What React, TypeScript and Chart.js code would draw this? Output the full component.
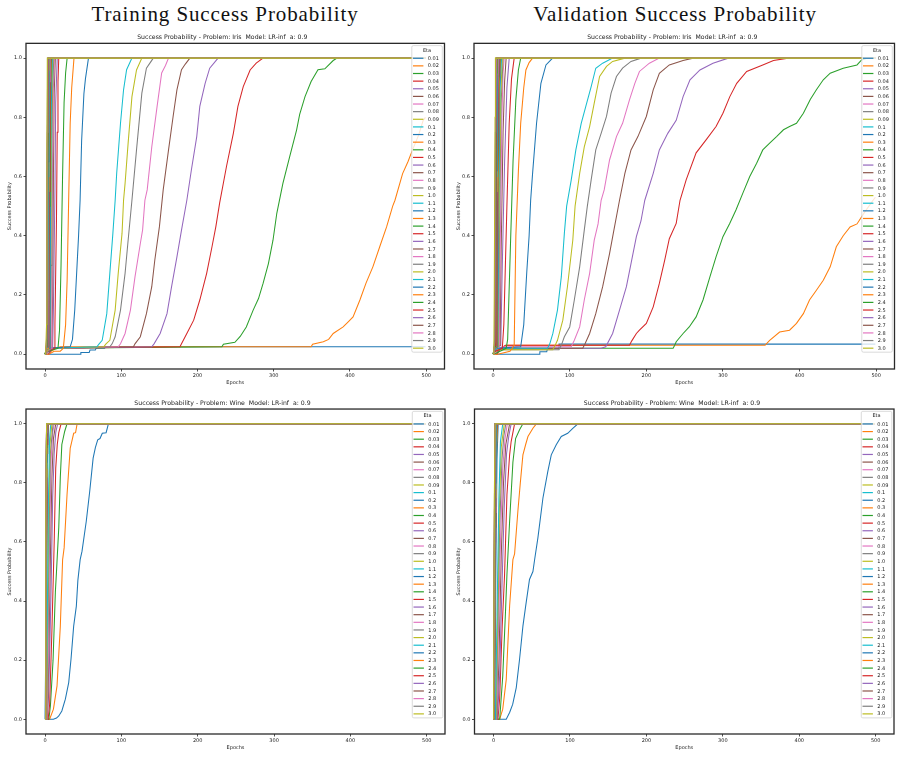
import { useEffect, useRef } from 'react';
import { Chart, registerables } from 'chart.js';

Chart.register(...registerables);
Chart.defaults.font.family = '"DejaVu Sans", sans-serif';

type Pt = [number, number];

// Learning rates (legend entries), in plotting order
const ETA_LABELS = [
  '0.01', '0.02', '0.03', '0.04', '0.05', '0.06', '0.07', '0.08', '0.09',
  '0.1', '0.2', '0.3', '0.4', '0.5', '0.6', '0.7', '0.8', '0.9', '1.0',
  '1.1', '1.2', '1.3', '1.4', '1.5', '1.6', '1.7', '1.8', '1.9', '2.0',
  '2.1', '2.2', '2.3', '2.4', '2.5', '2.6', '2.7', '2.8', '2.9', '3.0',
];

// matplotlib "tab10" colour cycle
const TAB10 = [
  '#1f77b4', '#ff7f0e', '#2ca02c', '#d62728', '#9467bd',
  '#8c564b', '#e377c2', '#7f7f7f', '#bcbd22', '#17becf',
];

const X_TICKS = [0, 100, 200, 300, 400, 500];
const Y_TICKS = [0, 0.2, 0.4, 0.6, 0.8, 1.0];
const X_RANGE: Pt = [-24.95, 523.95];
const Y_RANGE: Pt = [-0.05, 1.05];

// Success probability per epoch — Iris, training set
const IRIS_TRAIN: Pt[][] = [
  [[0,0],[10,0],[46,0],[47,0.006],[58,0.006],[59,0.014],[66,0.014],[67,0.02],[78,0.02],[80,0.025],[499,0.025]],
  [[0,0],[4,0],[8,0.01],[14,0.02],[20,0.025],[349,0.025],[351,0.034],[365,0.042],[372,0.05],[378,0.07],[391,0.092],[398,0.11],[404,0.126],[413,0.183],[421,0.24],[430,0.295],[439,0.363],[448,0.43],[456,0.5],[459,0.52],[469,0.61],[476,0.65],[482,0.69],[490,0.74],[496,0.79],[499,0.8]],
  [[0,0],[3,0],[8,0.02],[232,0.025],[234,0.034],[249,0.04],[256,0.06],[264,0.092],[273,0.149],[280,0.188],[286,0.239],[293,0.306],[299,0.385],[304,0.476],[312,0.577],[321,0.668],[330,0.758],[334,0.81],[341,0.87],[349,0.921],[358,0.961],[367,0.964],[378,0.992],[383,1],[499,1]],
  [[0,0],[5,0],[10,0.02],[177,0.025],[179,0.035],[186,0.07],[195,0.115],[203,0.183],[212,0.273],[219,0.363],[224,0.43],[229,0.51],[238,0.634],[247,0.746],[253,0.837],[260,0.904],[269,0.96],[277,0.983],[286,1],[499,1]],
  [[0,0],[4,0],[9,0.02],[140,0.025],[143,0.035],[151,0.07],[160,0.137],[166,0.228],[173,0.329],[179,0.419],[186,0.52],[192,0.623],[199,0.735],[203,0.837],[210,0.915],[216,0.966],[227,1],[499,1]],
  [[0,0],[4,0],[8,0.02],[116,0.025],[118,0.035],[125,0.059],[133,0.137],[140,0.228],[144,0.318],[150,0.43],[155,0.555],[162,0.69],[168,0.803],[173,0.893],[179,0.961],[184,0.98],[190,1],[499,1]],
  [[0,0],[3,0],[7,0.02],[96,0.025],[99,0.035],[105,0.07],[112,0.149],[118,0.261],[125,0.374],[128,0.42],[131,0.52],[134,0.555],[140,0.7],[147,0.837],[153,0.95],[158,0.975],[162,1],[499,1]],
  [[0,0],[3,0.01],[6,0.02],[85,0.025],[88,0.035],[92,0.059],[99,0.149],[105,0.273],[109,0.385],[114,0.52],[120,0.69],[127,0.882],[133,0.966],[138,0.985],[142,1],[499,1]],
  [[0,0],[3,0.01],[6,0.02],[77,0.025],[80,0.035],[85,0.047],[92,0.149],[96,0.273],[101,0.408],[103,0.52],[105,0.577],[109,0.713],[114,0.87],[120,0.96],[127,1],[499,1]],
  [[0,0],[2,0.01],[5,0.02],[68,0.025],[71,0.035],[75,0.047],[81,0.137],[85,0.273],[89,0.408],[92,0.52],[94,0.611],[99,0.78],[103,0.893],[107,0.961],[114,1],[499,1]],
  [[0,0],[2,0.01],[5,0.02],[33,0.025],[36,0.05],[39,0.15],[42,0.3],[44,0.4],[46,0.52],[48,0.72],[51,0.88],[53,0.93],[57,1],[499,1]],
  [[0,0],[5,0],[12,0.01],[20,0.01],[24,0.02],[27,0.1],[29,0.25],[31,0.52],[33,0.78],[35,0.9],[38,1],[499,1]],
  [[0,0],[4,0.01],[17,0.02],[19,0.08],[21,0.3],[23,0.6],[25,0.85],[27,0.95],[29,1],[499,1]],
  [[0,0],[3,0.01],[12,0.02],[13,0.1],[15,0.45],[16,0.75],[17,0.92],[18,1],[499,1]],
  [[0,0],[3,0.01],[10,0.02],[11,0.15],[13,0.55],[14,0.85],[16,1],[499,1]],
  [[0,0],[2,0.01],[9,0.02],[10,0.2],[11,0.6],[12,0.88],[13.5,1],[499,1]],
  [[0,0],[2,0.01],[8,0.02],[9,0.25],[10,0.65],[11,0.9],[12.5,1],[499,1]],
  [[0,0],[2,0.01],[7,0.02],[8,0.3],[9,0.7],[10,0.9],[11.5,1],[499,1]],
  [[0,0],[2,0.01],[6.5,0.02],[7.5,0.35],[8.5,0.75],[9.5,0.93],[10.5,1],[499,1]],
  [[0,0],[2,0.015],[6,0.02],[7,0.4],[8,0.8],[9.5,1],[499,1]],
  [[0,0],[1.5,0.015],[5.5,0.02],[6.5,0.45],[7.5,0.85],[9,1],[499,1]],
  [[0,0],[1.5,0.015],[5,0.02],[6,0.5],[7,0.87],[8.5,1],[499,1]],
  [[0,0],[1.5,0.02],[4.5,0.025],[5.5,0.5],[6.5,0.88],[8,1],[499,1]],
  [[0,0],[1,0.02],[4.5,0.025],[5.5,0.55],[6.5,0.9],[7.5,1],[499,1]],
  [[0,0],[1,0.02],[4,0.025],[5,0.5],[6,0.9],[7,1],[499,1]],
  [[0,0],[1,0.02],[4,0.025],[5,0.6],[6,0.92],[7,1],[499,1]],
  [[0,0],[1,0.02],[3.5,0.025],[4.5,0.55],[5.5,0.92],[6.5,1],[499,1]],
  [[0,0],[1,0.02],[3.5,0.025],[4.5,0.6],[5.5,0.94],[6,1],[499,1]],
  [[0,0],[1,0.02],[3,0.025],[4,0.55],[5,0.93],[6,1],[499,1]],
  [[0,0],[1,0.02],[3,0.025],[4,0.6],[5,0.95],[5.5,1],[499,1]],
  [[0,0],[1,0.02],[3,0.025],[4,0.65],[5,1],[499,1]],
  [[0,0],[1,0.02],[2.5,0.025],[3.5,0.6],[4.5,0.96],[5,1],[499,1]],
  [[0,0],[1,0.02],[2.5,0.025],[3.5,0.65],[4.5,1],[499,1]],
  [[0,0],[1,0.02],[2,0.025],[3,0.6],[4,0.97],[4.5,1],[499,1]],
  [[0,0],[1,0.02],[2,0.025],[3,0.65],[4,1],[499,1]],
  [[0,0],[1,0.02],[2,0.03],[3,0.7],[4,1],[499,1]],
  [[0,0],[1,0.02],[2,0.04],[3,0.75],[3.5,1],[499,1]],
  [[0,0],[1,0.02],[2,0.05],[2.5,0.6],[3.5,1],[499,1]],
  [[0,0],[1,0.02],[2,0.1],[2.5,0.7],[3,1],[499,1]],
];

// Success probability per epoch — Iris, validation set
const IRIS_VAL: Pt[][] = [
  [[0,0],[10,0],[60,0],[61,0.008],[70,0.008],[71,0.02],[85,0.02],[86,0.034],[499,0.034]],
  [[0,0],[4,0],[10,0.02],[18,0.03],[355,0.03],[357,0.036],[361,0.047],[374,0.075],[387,0.081],[396,0.104],[405,0.137],[413,0.183],[422,0.216],[431,0.25],[440,0.295],[448,0.363],[457,0.4],[466,0.43],[475,0.44],[485,0.48],[496,0.52],[499,0.53]],
  [[0,0],[4,0],[10,0.02],[235,0.02],[237,0.03],[239,0.042],[248,0.07],[256,0.092],[265,0.126],[274,0.183],[283,0.261],[291,0.329],[300,0.397],[309,0.442],[317,0.487],[326,0.544],[335,0.6],[344,0.645],[352,0.69],[361,0.713],[370,0.735],[379,0.758],[387,0.769],[396,0.78],[405,0.814],[414,0.86],[422,0.893],[431,0.927],[440,0.949],[457,0.966],[475,0.977],[481,0.994],[488,1],[499,1]],
  [[0,0],[5,0],[10,0.02],[16,0.03],[178,0.03],[181,0.045],[187,0.07],[191,0.081],[200,0.104],[209,0.16],[217,0.239],[224,0.318],[230,0.39],[239,0.442],[244,0.52],[252,0.589],[265,0.68],[278,0.724],[291,0.769],[300,0.814],[309,0.87],[318,0.915],[331,0.955],[352,0.977],[366,0.992],[385,1],[499,1]],
  [[0,0],[4,0],[9,0.02],[141,0.02],[147,0.025],[156,0.07],[165,0.149],[174,0.228],[180,0.306],[187,0.397],[193,0.45],[198,0.52],[209,0.611],[217,0.69],[228,0.746],[239,0.79],[248,0.87],[257,0.927],[270,0.96],[287,0.983],[307,1],[499,1]],
  [[0,0],[4,0],[8,0.02],[117,0.02],[120,0.035],[126,0.07],[134,0.137],[143,0.228],[152,0.34],[157,0.41],[165,0.52],[172,0.611],[180,0.69],[189,0.735],[200,0.803],[209,0.893],[217,0.949],[230,0.977],[248,0.992],[261,1],[499,1]],
  [[0,0],[3,0],[7,0.02],[12,0.025],[102,0.025],[106,0.047],[113,0.092],[119,0.183],[126,0.273],[132,0.385],[137,0.44],[141,0.52],[145,0.555],[152,0.656],[161,0.735],[169,0.78],[178,0.859],[185,0.915],[191,0.955],[204,0.983],[217,1],[499,1]],
  [[0,0],[3,0.01],[6,0.015],[86,0.015],[89,0.03],[93,0.059],[100,0.092],[106,0.183],[113,0.295],[119,0.419],[123,0.5],[128,0.589],[134,0.69],[141,0.746],[148,0.803],[154,0.882],[161,0.938],[169,0.966],[180,0.989],[193,1],[499,1]],
  [[0,0],[3,0.01],[6,0.015],[78,0.015],[81,0.03],[84,0.047],[91,0.115],[97,0.228],[104,0.385],[107,0.5],[113,0.611],[119,0.7],[126,0.769],[132,0.848],[139,0.938],[148,0.972],[156,0.989],[172,1],[499,1]],
  [[0,0],[2,0.01],[5,0.02],[71,0.02],[74,0.035],[78,0.07],[84,0.149],[89,0.261],[93,0.408],[96,0.5],[102,0.589],[108,0.69],[115,0.78],[121,0.837],[128,0.904],[134,0.966],[143,0.983],[156,1],[499,1]],
  [[0,0],[2,0.01],[5,0.02],[36,0.025],[40,0.1],[44,0.28],[47,0.4],[49,0.52],[51.5,0.61],[56.7,0.78],[62.4,0.915],[69,0.977],[77.7,1],[499,1]],
  [[0,0],[6,0],[22,0.01],[27.5,0.03],[29.7,0.4],[33,0.62],[36,0.78],[40,0.9],[42.8,0.96],[47,0.985],[51.5,1],[499,1]],
  [[0,0],[5,0.005],[17,0.02],[19,0.05],[23,0.4],[26,0.65],[29.7,0.86],[33,0.96],[36,1],[499,1]],
  [[0,0],[3,0.01],[12,0.02],[14,0.1],[16,0.3],[18,0.5],[21,0.78],[24,0.93],[27.5,1],[499,1]],
  [[0,0],[3,0.02],[10,0.03],[12,0.3],[15,0.65],[18,0.9],[21,1],[499,1]],
  [[0,0],[2,0.02],[9,0.03],[10.5,0.35],[13,0.75],[15,0.92],[17,1],[499,1]],
  [[0,0],[2,0.02],[8,0.025],[9.5,0.4],[11.5,0.8],[13,0.95],[14.5,1],[499,1]],
  [[0,0],[2,0.02],[7,0.025],[8.5,0.45],[10.5,0.85],[13,1],[499,1]],
  [[0,0],[2,0.02],[6.5,0.025],[8,0.5],[10,0.88],[12,1],[499,1]],
  [[0,0],[1.5,0.02],[6,0.025],[7.5,0.55],[9,0.9],[11,1],[499,1]],
  [[0,0],[1.5,0.02],[5.5,0.025],[7,0.55],[8.5,0.9],[10,1],[499,1]],
  [[0,0],[1.5,0.02],[5,0.025],[6.5,0.55],[8,0.9],[9.5,1],[499,1]],
  [[0,0],[1.5,0.02],[4.5,0.025],[6,0.6],[7.5,0.92],[9,1],[499,1]],
  [[0,0],[1,0.02],[4.5,0.025],[5.5,0.55],[7,0.92],[8.5,1],[499,1]],
  [[0,0],[1,0.02],[4,0.025],[5,0.5],[6.5,0.9],[8,1],[499,1]],
  [[0,0],[1,0.02],[4,0.025],[5,0.6],[6.5,0.94],[7.5,1],[499,1]],
  [[0,0],[1,0.02],[3.5,0.025],[4.5,0.55],[6,0.92],[7,1],[499,1]],
  [[0,0],[1,0.02],[3.5,0.025],[4.5,0.6],[5.5,0.9],[6.5,1],[499,1]],
  [[0,0],[1,0.02],[3,0.025],[4,0.55],[5,0.9],[6,1],[499,1]],
  [[0,0],[1,0.02],[3,0.025],[4,0.6],[5,0.93],[6,1],[499,1]],
  [[0,0],[1,0.02],[3,0.025],[4,0.62],[5,0.95],[5.5,1],[499,1]],
  [[0,0],[1,0.02],[2.5,0.025],[3.5,0.55],[4.5,0.93],[5.5,1],[499,1]],
  [[0,0],[1,0.02],[2.5,0.025],[3.5,0.6],[4.5,0.95],[5,1],[499,1]],
  [[0,0],[1,0.02],[2.5,0.03],[3.5,0.65],[4.5,1],[499,1]],
  [[0,0],[1,0.02],[2,0.03],[3,0.6],[4,0.96],[4.5,1],[499,1]],
  [[0,0],[1,0.02],[2,0.03],[3,0.65],[4,1],[499,1]],
  [[0,0],[1,0.02],[2,0.04],[3,0.7],[4,1],[499,1]],
  [[0,0],[1,0.02],[2,0.05],[3,0.75],[3.5,1],[499,1]],
  [[0,0],[1,0.03],[1.5,0.2],[2.5,0.8],[3,1],[499,1]],
];

// Success probability per epoch — Wine, training set
const WINE_TRAIN: Pt[][] = [
  [[0,0],[11,0],[15,0.004],[18,0.011],[22,0.028],[26.6,0.068],[31,0.124],[34,0.203],[37.5,0.315],[41,0.383],[43,0.47],[46,0.54],[48.4,0.568],[54,0.67],[58.5,0.771],[63,0.884],[66,0.92],[69,0.946],[72,0.95],[75,0.968],[80,0.97],[83,1],[499,1]],
  [[0,0],[6,0],[11,0.034],[15.7,0.113],[20,0.315],[23,0.54],[25,0.58],[28.8,0.76],[33,0.918],[35,0.94],[37.5,0.968],[40,0.97],[42,1],[499,1]],
  [[0,0],[5,0],[7,0.045],[10.5,0.2],[13.5,0.43],[15,0.5],[18,0.65],[20,0.82],[22,0.93],[25.7,0.974],[28.8,1],[499,1]],
  [[0,0],[4,0],[6,0.05],[9,0.3],[12,0.6],[14,0.85],[16,0.93],[18,0.97],[21,1],[499,1]],
  [[0,0],[3,0],[5,0.1],[8,0.45],[10,0.75],[12,0.9],[14,0.97],[16.5,1],[499,1]],
  [[0,0],[3,0],[4.5,0.15],[7,0.55],[9,0.82],[11,0.95],[14,1],[499,1]],
  [[0,0],[2.5,0],[4,0.2],[6,0.6],[8,0.88],[10,0.97],[12,1],[499,1]],
  [[0,0],[2,0],[3.5,0.25],[5.5,0.65],[7,0.9],[10.5,1],[499,1]],
  [[0,0],[2,0],[3,0.3],[5,0.7],[6.5,0.93],[9,1],[499,1]],
  [[0,0],[1.5,0],[3,0.35],[4.5,0.75],[6,0.95],[7.5,1],[499,1]],
  [[0,0],[1,0],[2,0.5],[3,0.85],[4.5,1],[499,1]],
  [[0,0],[1,0.05],[2,0.6],[3,0.95],[4,1],[499,1]],
  [[0,0],[1,0.05],[2,0.55],[3,0.9],[3.5,1],[499,1]],
  [[0,0],[1,0.08],[2,0.6],[3,0.93],[3.5,1],[499,1]],
  [[0,0],[1,0.1],[2,0.65],[3,1],[499,1]],
  [[0,0],[1,0.12],[2,0.7],[3,1],[499,1]],
  [[0,0],[1,0.15],[2,0.75],[3,1],[499,1]],
  [[0,0],[1,0.18],[2,0.8],[2.5,1],[499,1]],
  [[0,0],[1,0.2],[2,0.82],[2.5,1],[499,1]],
  [[0,0],[1,0.22],[2,0.85],[2.5,1],[499,1]],
  [[0,0],[1,0.25],[2,0.87],[2.5,1],[499,1]],
  [[0,0],[1,0.27],[2,0.9],[2.5,1],[499,1]],
  [[0,0],[1,0.3],[2,0.92],[2.5,1],[499,1]],
  [[0,0],[1,0.32],[2,0.93],[2.5,1],[499,1]],
  [[0,0],[1,0.35],[2,0.95],[2.5,1],[499,1]],
  [[0,0],[1,0.37],[2,0.96],[2.5,1],[499,1]],
  [[0,0],[1,0.4],[2,0.97],[2.5,1],[499,1]],
  [[0,0],[1,0.42],[2,1],[499,1]],
  [[0,0],[1,0.45],[2,1],[499,1]],
  [[0,0],[1,0.47],[2,1],[499,1]],
  [[0,0],[1,0.5],[2,1],[499,1]],
  [[0,0],[1,0.52],[2,1],[499,1]],
  [[0,0],[1,0.55],[2,1],[499,1]],
  [[0,0],[1,0.57],[2,1],[499,1]],
  [[0,0],[1,0.6],[2,1],[499,1]],
  [[0,0],[1,0.62],[2,1],[499,1]],
  [[0,0],[1,0.65],[2,1],[499,1]],
  [[0,0],[1,0.68],[2,1],[499,1]],
  [[0,0],[1,0.7],[2,1],[499,1]],
];

// Success probability per epoch — Wine, validation set
const WINE_VAL: Pt[][] = [
  [[0,0],[16.6,0],[21,0.023],[25,0.05],[29.7,0.107],[34,0.203],[38.4,0.315],[42,0.383],[47,0.473],[51.5,0.5],[53.7,0.54],[58,0.614],[64.6,0.749],[71,0.839],[75.5,0.895],[82,0.929],[88.6,0.957],[97,0.968],[104,0.985],[110.4,1],[499,1]],
  [[0,0],[8,0],[12,0.034],[16.6,0.135],[21,0.383],[25.3,0.54],[27.5,0.56],[31.8,0.704],[35,0.8],[38.4,0.895],[42,0.93],[45,0.957],[51.5,0.985],[56,1],[499,1]],
  [[0,0],[8,0],[12,0.146],[15.7,0.37],[17.5,0.49],[21,0.67],[25.3,0.87],[28.8,0.95],[34,0.98],[38.4,1],[499,1]],
  [[0,0],[5.7,0],[8,0.07],[11.3,0.315],[14.4,0.49],[17.5,0.76],[21,0.895],[23,0.94],[27.5,1],[499,1]],
  [[0,0],[5,0],[8,0.15],[11,0.45],[14,0.72],[17,0.9],[20,0.96],[23,1],[499,1]],
  [[0,0],[4.5,0],[7,0.2],[10,0.55],[13,0.8],[16,0.93],[21,1],[499,1]],
  [[0,0],[4,0],[6,0.25],[9,0.6],[12,0.85],[15,0.95],[18,1],[499,1]],
  [[0,0],[3.5,0],[5.5,0.3],[8,0.65],[11,0.88],[13.5,0.96],[16,1],[499,1]],
  [[0,0],[3,0],[5,0.3],[7.5,0.7],[10,0.92],[14,1],[499,1]],
  [[0,0],[2.5,0],[4.5,0.35],[7,0.75],[9,0.94],[12,1],[499,1]],
  [[0,0],[1.5,0],[3,0.5],[4.5,0.88],[6,1],[499,1]],
  [[0,0],[1,0],[2.5,0.55],[4,0.92],[5,1],[499,1]],
  [[0,0],[1,0.03],[2.5,0.6],[3.5,0.9],[4.5,1],[499,1]],
  [[0,0],[1,0.05],[2,0.55],[3.5,0.93],[4.5,1],[499,1]],
  [[0,0],[1,0.07],[2,0.6],[3,0.9],[4,1],[499,1]],
  [[0,0],[1,0.1],[2,0.65],[3,0.93],[4,1],[499,1]],
  [[0,0],[1,0.12],[2,0.7],[3,0.95],[3.5,1],[499,1]],
  [[0,0],[1,0.15],[2,0.72],[3,1],[499,1]],
  [[0,0],[1,0.17],[2,0.75],[3,1],[499,1]],
  [[0,0],[1,0.2],[2,0.78],[3,1],[499,1]],
  [[0,0],[1,0.22],[2,0.8],[3,1],[499,1]],
  [[0,0],[1,0.25],[2,0.83],[2.5,1],[499,1]],
  [[0,0],[1,0.27],[2,0.85],[2.5,1],[499,1]],
  [[0,0],[1,0.3],[2,0.88],[2.5,1],[499,1]],
  [[0,0],[1,0.32],[2,0.9],[2.5,1],[499,1]],
  [[0,0],[1,0.35],[2,0.92],[2.5,1],[499,1]],
  [[0,0],[1,0.37],[2,0.94],[2.5,1],[499,1]],
  [[0,0],[1,0.4],[2,0.96],[2.5,1],[499,1]],
  [[0,0],[1,0.42],[2,1],[499,1]],
  [[0,0],[1,0.45],[2,1],[499,1]],
  [[0,0],[1,0.48],[2,1],[499,1]],
  [[0,0],[1,0.5],[2,1],[499,1]],
  [[0,0],[1,0.53],[2,1],[499,1]],
  [[0,0],[1,0.56],[2,1],[499,1]],
  [[0,0],[1,0.6],[2,1],[499,1]],
  [[0,0],[1,0.63],[2,1],[499,1]],
  [[0,0],[1,0.67],[2,1],[499,1]],
  [[0,0],[1,0.7],[2,1],[499,1]],
  [[0,0],[1,0.75],[2,1],[499,1]],
];

type PanelSpec = {
  title: string;
  curves: Pt[][];
  left: number;
  top: number;
  width: number;
  height: number;
  yAxisWidth: number;
  padRight: number;
  titlePad: { top: number; bottom: number };
  yTitlePad: number;
};

const TEXT = '#222222';

// Box around the plotting area plus the "Eta" legend drawn inside it
const etaLegend = {
  id: 'etaLegend',
  afterDraw(chart: any, _args: unknown, opts: { title?: string }) {
    const { ctx, chartArea: a } = chart;
    ctx.save();
    ctx.strokeStyle = '#2a2a2a';
    ctx.lineWidth = 1.3;
    ctx.strokeRect(a.left, a.top, a.right - a.left, a.bottom - a.top);

    const sets = chart.data.datasets;
    const rowH = 7.63;
    const boxW = 30.5;
    const boxH = 12.6 + (sets.length - 1) * rowH + 4;
    const bx = a.right - 2.2 - boxW;
    const by = a.top + 2.3;
    ctx.beginPath();
    ctx.roundRect(bx, by, boxW, boxH, 1.5);
    ctx.fillStyle = 'rgba(255,255,255,0.8)';
    ctx.fill();
    ctx.strokeStyle = '#cccccc';
    ctx.lineWidth = 0.7;
    ctx.stroke();

    ctx.fillStyle = TEXT;
    ctx.font = '5px "DejaVu Sans"';
    ctx.textBaseline = 'middle';
    ctx.textAlign = 'center';
    ctx.fillText(opts.title ?? '', bx + boxW / 2, by + 4.6);
    ctx.textAlign = 'left';
    sets.forEach((ds: any, i: number) => {
      const y = by + 12.6 + i * rowH;
      ctx.strokeStyle = ds.borderColor;
      ctx.lineWidth = 1.2;
      ctx.beginPath();
      ctx.moveTo(bx + 1.2, y);
      ctx.lineTo(bx + 11.6, y);
      ctx.stroke();
      ctx.fillStyle = TEXT;
      ctx.fillText(ds.label, bx + 16, y + 0.3);
    });
    ctx.restore();
  },
};

function PanelChart({ spec }: { spec: PanelSpec }) {
  const ref = useRef<HTMLCanvasElement>(null);

  useEffect(() => {
    const n = spec.curves.length;
    const chart = new Chart(ref.current as HTMLCanvasElement, {
      type: 'line',
      data: {
        datasets: spec.curves.map((pts, i) => ({
          label: ETA_LABELS[i],
          data: pts.map(([x, y]) => ({ x, y })),
          borderColor: TAB10[i % TAB10.length],
          backgroundColor: TAB10[i % TAB10.length],
          borderWidth: 1.05,
          pointRadius: 0,
          tension: 0,
          fill: false,
          order: n - i,
        })),
      },
      options: {
        animation: false,
        responsive: false,
        maintainAspectRatio: false,
        events: [],
        layout: { padding: { left: 0, right: spec.padRight, top: 0, bottom: 0 } },
        plugins: {
          legend: { display: false },
          tooltip: { enabled: false },
          title: {
            display: true,
            text: spec.title,
            color: TEXT,
            font: { size: 6.2, weight: 'normal' },
            padding: spec.titlePad,
          },
          etaLegend: { title: 'Eta' },
        } as any,
        scales: {
          x: {
            type: 'linear',
            min: X_RANGE[0],
            max: X_RANGE[1],
            afterBuildTicks: (s: any) => {
              s.ticks = X_TICKS.map((v) => ({ value: v }));
            },
            afterFit: (s: any) => {
              s.height = 21;
            },
            ticks: {
              color: TEXT,
              font: { size: 5 },
              padding: 1.5,
              maxRotation: 0,
              autoSkip: false,
              callback: (v: any) => String(v),
            },
            grid: { drawOnChartArea: false, drawTicks: true, tickLength: 2.5, color: TEXT, lineWidth: 0.8 },
            border: { display: false },
            title: { display: true, text: 'Epochs', color: TEXT, font: { size: 5 }, padding: { top: 0, bottom: 4.7 } },
          },
          y: {
            type: 'linear',
            min: Y_RANGE[0],
            max: Y_RANGE[1],
            afterBuildTicks: (s: any) => {
              s.ticks = Y_TICKS.map((v) => ({ value: v }));
            },
            afterFit: (s: any) => {
              s.width = spec.yAxisWidth;
            },
            ticks: {
              color: TEXT,
              font: { size: 5 },
              padding: 1.5,
              autoSkip: false,
              callback: (v: any) => Number(v).toFixed(1),
            },
            grid: { drawOnChartArea: false, drawTicks: true, tickLength: 2.5, color: TEXT, lineWidth: 0.8 },
            border: { display: false },
            title: { display: true, text: 'Success Probability', color: TEXT, font: { size: 5 }, padding: { top: spec.yTitlePad, bottom: 0 } },
          },
        },
      } as any,
      plugins: [etaLegend],
    });
    return () => chart.destroy();
  }, [spec]);

  return (
    <canvas
      ref={ref}
      width={spec.width}
      height={spec.height}
      style={{ position: 'absolute', left: spec.left, top: spec.top, width: spec.width, height: spec.height }}
    />
  );
}

const TITLE_IRIS = 'Success Probability - Problem: Iris  Model: LR-inf  a: 0.9';
const TITLE_WINE = 'Success Probability - Problem: Wine  Model: LR-inf  a: 0.9';

const PANELS: PanelSpec[] = [
  { title: TITLE_IRIS, curves: IRIS_TRAIN, left: 0, top: 30, width: 450, height: 360, yAxisWidth: 26, padRight: 5.5, titlePad: { top: 3.6, bottom: 2.3 }, yTitlePad: 6.3 },
  { title: TITLE_IRIS, curves: IRIS_VAL, left: 450, top: 30, width: 451, height: 360, yAxisWidth: 24, padRight: 6.5, titlePad: { top: 3.6, bottom: 2.3 }, yTitlePad: 5.3 },
  { title: TITLE_WINE, curves: WINE_TRAIN, left: 0, top: 395, width: 450, height: 360, yAxisWidth: 26, padRight: 5, titlePad: { top: 4.6, bottom: 2 }, yTitlePad: 6.3 },
  { title: TITLE_WINE, curves: WINE_VAL, left: 450, top: 395, width: 451, height: 360, yAxisWidth: 24.5, padRight: 7, titlePad: { top: 4.6, bottom: 2 }, yTitlePad: 5.3 },
];

const headingStyle = (left: number): React.CSSProperties => ({
  position: 'absolute',
  left,
  top: 2,
  width: 450,
  textAlign: 'center',
  fontFamily: '"Liberation Serif", serif',
  fontSize: 21,
  lineHeight: '24px',
  letterSpacing: '0.9px',
  color: '#111',
  whiteSpace: 'nowrap',
});

export default function App() {
  return (
    <div style={{ position: 'absolute', left: 0, top: 0, width: 901, height: 757, background: '#fff', overflow: 'hidden' }}>
      <div style={headingStyle(0)}>Training Success Probability</div>
      <div style={headingStyle(450)}>Validation Success Probability</div>
      {PANELS.map((p, i) => (
        <PanelChart key={i} spec={p} />
      ))}
    </div>
  );
}
